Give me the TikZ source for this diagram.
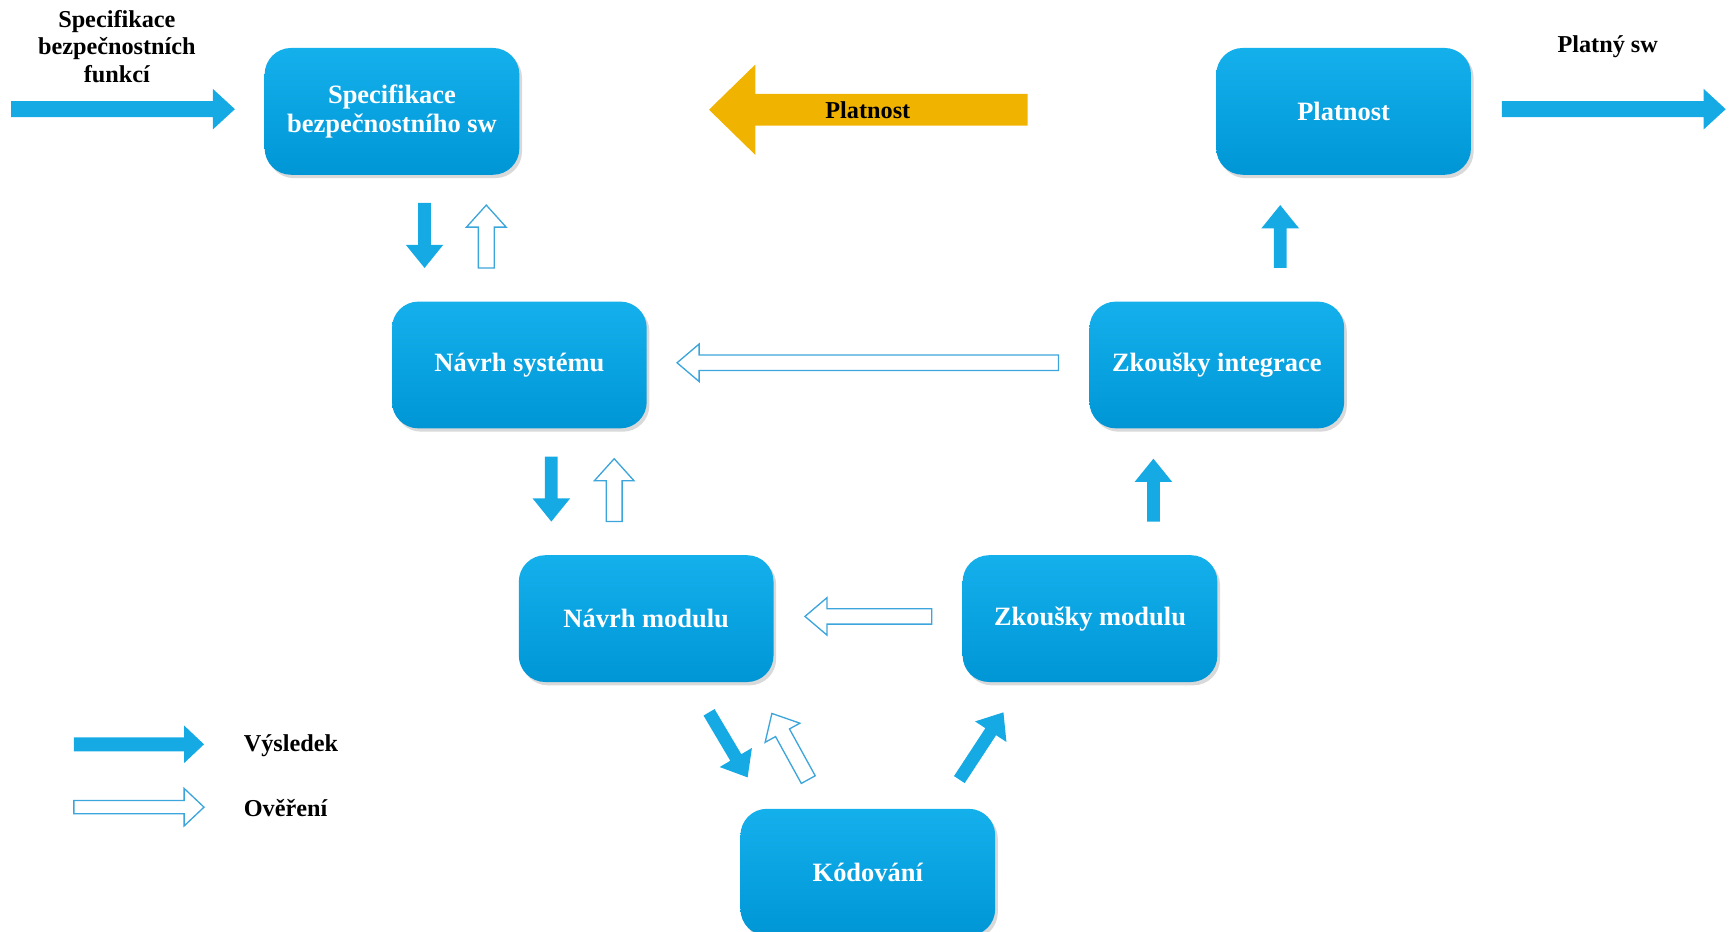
\documentclass[tikz,border=0pt]{standalone}
\usepackage{fontspec}
\setmainfont{Liberation Serif}
\usetikzlibrary{calc,shadows}

\definecolor{boxtop}{RGB}{20,176,236}
\definecolor{boxbot}{RGB}{0,150,214}
\definecolor{resblue}{RGB}{22,170,228}
\definecolor{chkblue}{RGB}{60,165,220}
\definecolor{gold}{RGB}{240,180,0}

\tikzset{
  stage/.style={rounded corners=12pt, minimum width=115.5pt, minimum height=57.5pt,
    top color=boxtop, bottom color=boxbot, text=white, align=center,
    font=\bfseries\fontsize{12}{13}\selectfont,
    drop shadow={shadow xshift=1.2pt, shadow yshift=-1.5pt, opacity=0.3}},
  caption/.style={font=\bfseries\fontsize{11}{12.5}\selectfont, align=center, text=black},
  result/.style={fill=resblue},
  check/.style={fill=white, draw=chkblue, line width=0.6pt, line join=miter},
  validity/.style={fill=gold},
}

% block arrow: style, tail, tip, half shaft width, half head width, head length
\newcommand\bkarrow[6]{%
  \coordinate (hb) at ($(#3)!#6!(#2)$);
  \path[#1] ($(#2)!#4!90:(#3)$) -- ($(hb)!#4!90:(#3)$) -- ($(hb)!#5!90:(#3)$)
    -- (#3) -- ($(hb)!#5!-90:(#3)$) -- ($(hb)!#4!-90:(#3)$)
    -- ($(#2)!#4!-90:(#3)$) -- cycle;
}

\begin{document}
\begin{tikzpicture}[x=0.5pt, y=-0.5pt]
\useasboundingbox (0,0) rectangle (1568,845);

% process stages
\node[stage] (spec)    at (355.5,101) {Specifikace\\bezpečnostního sw};
\node[stage] (plat)    at (1218.5,101) {Platnost};
\node[stage] (sys)     at (471,331) {Návrh systému};
\node[stage] (integ)   at (1103.5,331) {Zkoušky integrace};
\node[stage] (mod)     at (586,561) {Návrh modulu};
\node[stage] (modtest) at (988.5,561) {Zkoušky modulu};
\node[stage] (code)    at (787,791) {Kódování};

% input and output
\node[caption] (inlab)  at (106,42) {Specifikace\\bezpečnostních\\funkcí};
\node[caption] (outlab) at (1458,42) {Platný sw};
\coordinate (in0) at (10,99);    \coordinate (in1) at (213,99);
\coordinate (out0) at (1362,99); \coordinate (out1) at (1565,99);
\bkarrow{result}{in0}{in1}{3.6pt}{9.2pt}{10pt}
\bkarrow{result}{out0}{out1}{3.6pt}{9.2pt}{10pt}

% validation back to the specification
\coordinate (v0) at (932,99.5); \coordinate (v1) at (643,99.5);
\bkarrow{validity}{v0}{v1}{7.2pt}{20.5pt}{21pt}
\node[caption] (vlab) at (787,100) {Platnost};

% left branch: results down, verification up
\coordinate (a1) at (385,184); \coordinate (a2) at (385,243);
\bkarrow{result}{a1}{a2}{2.9pt}{8.5pt}{10.5pt}
\coordinate (b1) at (441,243); \coordinate (b2) at (441,186);
\bkarrow{check}{b1}{b2}{3.6pt}{9pt}{10pt}
\coordinate (c1) at (500,414); \coordinate (c2) at (500,473);
\bkarrow{result}{c1}{c2}{2.9pt}{8.5pt}{10.5pt}
\coordinate (d1) at (557,473); \coordinate (d2) at (557,416);
\bkarrow{check}{d1}{d2}{3.6pt}{9pt}{10pt}
\coordinate (e1) at (643,646); \coordinate (e2) at (678,705);
\bkarrow{result}{e1}{e2}{2.9pt}{8.5pt}{10.5pt}
\coordinate (f1) at (733,707); \coordinate (f2) at (700,647);
\bkarrow{check}{f1}{f2}{3.6pt}{9pt}{10pt}

% right branch: results up
\coordinate (g1) at (870,707);  \coordinate (g2) at (910,646);
\bkarrow{result}{g1}{g2}{2.9pt}{8.5pt}{10.5pt}
\coordinate (h1) at (1046,473); \coordinate (h2) at (1046,416);
\bkarrow{result}{h1}{h2}{2.9pt}{8.5pt}{10.5pt}
\coordinate (i1) at (1161,243); \coordinate (i2) at (1161,186);
\bkarrow{result}{i1}{i2}{2.9pt}{8.5pt}{10.5pt}

% verification across the V
\coordinate (j1) at (960,329); \coordinate (j2) at (614,329);
\bkarrow{check}{j1}{j2}{3.5pt}{8.5pt}{10pt}
\coordinate (k1) at (845,559); \coordinate (k2) at (730,559);
\bkarrow{check}{k1}{k2}{3.5pt}{8.5pt}{10pt}

% legend
\coordinate (l1) at (67,675); \coordinate (l2) at (185,675);
\bkarrow{result}{l1}{l2}{3.2pt}{8.5pt}{9pt}
\node[caption, anchor=west] (lres) at (214,676) {Výsledek};
\coordinate (m1) at (67,732); \coordinate (m2) at (185,732);
\bkarrow{check}{m1}{m2}{3pt}{8.5pt}{9pt}
\node[caption, anchor=west] (lchk) at (214,733) {Ověření};
\end{tikzpicture}
\end{document}
